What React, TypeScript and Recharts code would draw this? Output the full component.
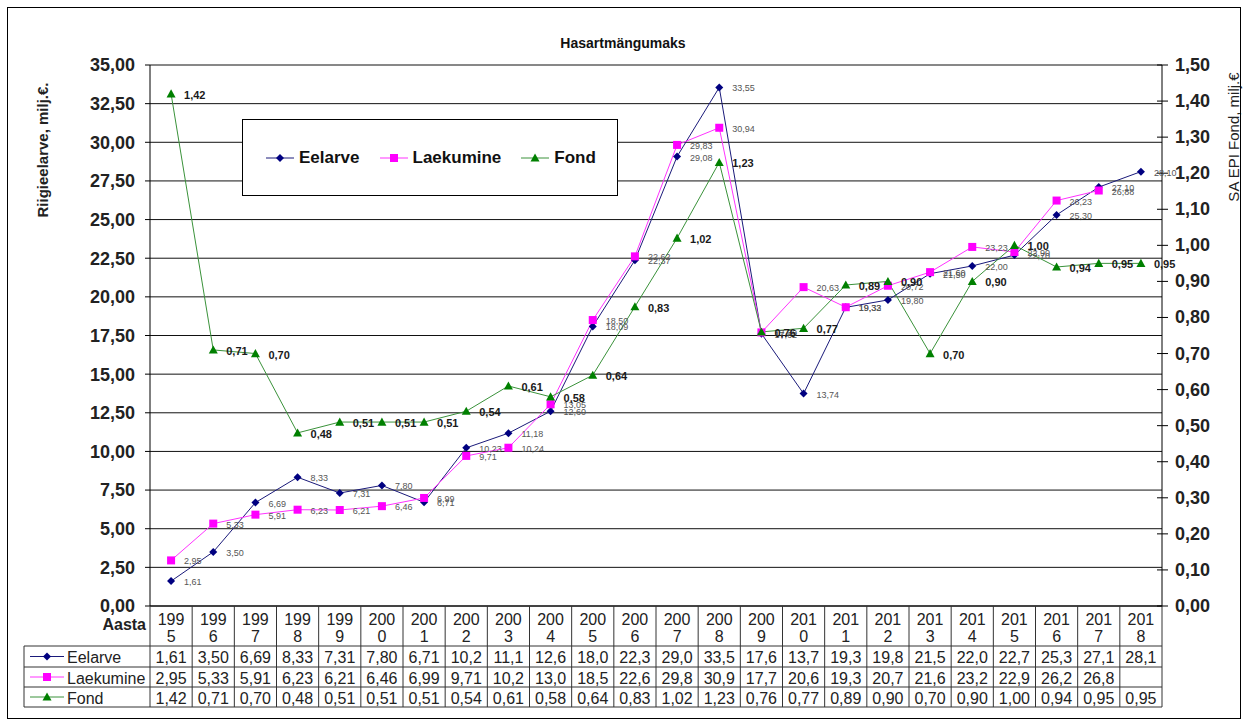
import React from "react";
import {
  LineChart,
  Line,
  XAxis,
  YAxis,
  CartesianGrid,
  LabelList,
  Legend,
} from "recharts";

// Hasartmängumaks: riigieelarve (eelarve / laekumine) ja SA EPI Fond
const years = [
  "1995", "1996", "1997", "1998", "1999", "2000", "2001", "2002",
  "2003", "2004", "2005", "2006", "2007", "2008", "2009", "2010",
  "2011", "2012", "2013", "2014", "2015", "2016", "2017", "2018",
];
const eelarve = [
  1.61, 3.5, 6.69, 8.33, 7.31, 7.8, 6.71, 10.23, 11.18, 12.6, 18.09, 22.37,
  29.08, 33.55, 17.62, 13.74, 19.32, 19.8, 21.5, 22.0, 22.7, 25.3, 27.1, 28.1,
];
const laekumine = [
  2.95, 5.33, 5.91, 6.23, 6.21, 6.46, 6.99, 9.71, 10.24, 13.05, 18.5, 22.62,
  29.83, 30.94, 17.7, 20.63, 19.33, 20.72, 21.6, 23.23, 22.9, 26.23, 26.88, null,
];
const fond = [
  1.42, 0.71, 0.7, 0.48, 0.51, 0.51, 0.51, 0.54, 0.61, 0.58, 0.64, 0.83,
  1.02, 1.23, 0.76, 0.77, 0.89, 0.9, 0.7, 0.9, 1.0, 0.94, 0.95, 0.95,
];
const leftTicks = [0, 2.5, 5, 7.5, 10, 12.5, 15, 17.5, 20, 22.5, 25, 27.5, 30, 32.5, 35];
const rightTicks = [0, 0.1, 0.2, 0.3, 0.4, 0.5, 0.6, 0.7, 0.8, 0.9, 1.0, 1.1, 1.2, 1.3, 1.4, 1.5];

const data = years.map((year, i) => ({
  year,
  eelarve: eelarve[i],
  laekumine: laekumine[i],
  fond: fond[i],
}));

const FONT = "Arial, 'Liberation Sans', sans-serif";
const W = 1246;
const H = 726;
const PLOT_LEFT = 150;
const PLOT_RIGHT = 1162;
const PLOT_TOP = 65;
const PLOT_BOTTOM = 606;
const COL = (PLOT_RIGHT - PLOT_LEFT) / years.length;
const ROWS = [646, 667, 687, 707];
const TABLE_LEFT = 24;

const comma = (v: number, d = 2) => v.toFixed(d).replace(".", ",");
// Excel cuts the long values in the narrow table cells
const cell = (v: number | null) => {
  if (v == null) return "";
  if (v >= 10) return comma(Math.floor(v * 10 + 1e-6) / 10, 1);
  return comma(v);
};

const series = [
  { key: "eelarve", name: "Eelarve", color: "#000080", line: "#1a1a7a", shape: "diamond", values: eelarve },
  { key: "laekumine", name: "Laekumine", color: "#ff00ff", line: "#ff33ff", shape: "square", values: laekumine },
  { key: "fond", name: "Fond", color: "#008000", line: "#3a923a", shape: "triangle", values: fond },
];

const Marker = ({ cx, cy, shape, fill }: any) => {
  if (shape === "diamond") {
    const r = 4;
    return <path d={`M${cx},${cy - r}L${cx + r},${cy}L${cx},${cy + r}L${cx - r},${cy}Z`} fill={fill} />;
  }
  if (shape === "square") {
    const r = 4;
    return <rect x={cx - r} y={cy - r} width={r * 2} height={r * 2} fill={fill} />;
  }
  const r = 4.5;
  return <path d={`M${cx},${cy - r}L${cx + r},${cy + r * 0.8}L${cx - r},${cy + r * 0.8}Z`} fill={fill} />;
};

const makeDot = (shape: string, fill: string) => (p: any) => {
  if (p.cy == null || p.cx == null) return <g key={p.index} />;
  return <Marker key={p.index} cx={p.cx} cy={p.cy} shape={shape} fill={fill} />;
};

const makeLabel = (bold: boolean) => (p: any) => {
  if (p.value == null) return null;
  return (
    <text
      x={p.x + 13}
      y={p.y + 1}
      dominantBaseline="central"
      fontFamily={FONT}
      fontSize={bold ? 11 : 9}
      fontWeight={bold ? "bold" : "normal"}
      fill={bold ? "#1a1a1a" : "#555"}
    >
      {comma(p.value)}
    </text>
  );
};

const TableTick = (props: any) => {
  const { x, payload, index } = props;
  const year = String(payload.value);
  const hw = COL / 2;
  const i = index;
  const mid = (a: number, b: number) => (a + b) / 2;
  return (
    <g fontFamily={FONT}>
      {i === 0 && (
        <g>
          <text x={146} y={630} textAnchor="end" fontSize={16} fontWeight="bold" fill="#222">
            Aasta
          </text>
          <line x1={TABLE_LEFT} x2={TABLE_LEFT} y1={ROWS[0]} y2={ROWS[3]} stroke="#333" />
          <line x1={x - hw} x2={x - hw} y1={PLOT_BOTTOM} y2={ROWS[3]} stroke="#333" />
          {ROWS.map((ry) => (
            <line key={ry} x1={TABLE_LEFT} x2={PLOT_RIGHT} y1={ry} y2={ry} stroke="#333" />
          ))}
          {series.map((s, k) => {
            const cy = mid(ROWS[k], ROWS[k + 1]);
            return (
              <g key={s.key}>
                <line x1={30} x2={64} y1={cy} y2={cy} stroke={s.line} />
                <Marker cx={47} cy={cy} shape={s.shape} fill={s.color} />
                <text x={67} y={cy + 1} dominantBaseline="central" fontSize={16} fill="#222">
                  {s.name}
                </text>
              </g>
            );
          })}
        </g>
      )}
      <line x1={x + hw} x2={x + hw} y1={PLOT_BOTTOM} y2={ROWS[3]} stroke="#333" />
      <text x={x} y={625} textAnchor="middle" fontSize={16} fill="#222">
        {year.slice(0, 3)}
      </text>
      <text x={x} y={642} textAnchor="middle" fontSize={16} fill="#222">
        {year.slice(3)}
      </text>
      {series.map((s, k) => (
        <text
          key={s.key}
          x={x}
          y={mid(ROWS[k], ROWS[k + 1]) + 1}
          textAnchor="middle"
          dominantBaseline="central"
          fontSize={16}
          fill="#222"
        >
          {cell(s.values[i])}
        </text>
      ))}
    </g>
  );
};

const RightTick = (props: any) => {
  const { x, y, payload } = props;
  return (
    <g>
      <line x1={PLOT_RIGHT - 5} x2={PLOT_RIGHT + 6} y1={y} y2={y} stroke="#000" />
      <text x={x} y={y} dominantBaseline="central" fontFamily={FONT} fontSize={18} fontWeight="bold" fill="#222">
        {comma(payload.value)}
      </text>
    </g>
  );
};

const LegendBox = () => (
  <div
    style={{
      boxSizing: "border-box",
      width: "100%",
      height: "100%",
      border: "1px solid #000",
      background: "#fff",
      display: "flex",
      alignItems: "center",
      paddingLeft: 23,
      fontFamily: FONT,
      fontSize: 17,
      fontWeight: "bold",
      color: "#111",
    }}
  >
    {series.map((s) => (
      <div key={s.key} style={{ display: "flex", alignItems: "center", marginRight: 20 }}>
        <svg width={29} height={14} style={{ marginRight: 4 }}>
          <line x1={0} x2={28} y1={7} y2={7} stroke={s.line} />
          <Marker cx={14} cy={7} shape={s.shape} fill={s.color} />
        </svg>
        <span>{s.name}</span>
      </div>
    ))}
  </div>
);

export default function App() {
  return (
    <div style={{ position: "absolute", left: 0, top: 0, width: W, height: H, background: "#fff" }}>
      <div
        style={{
          position: "absolute",
          left: 0,
          top: 35,
          width: W,
          textAlign: "center",
          fontFamily: FONT,
          fontSize: 14,
          fontWeight: "bold",
          color: "#111",
        }}
      >
        Hasartmängumaks
      </div>
      <LineChart
        width={W}
        height={H}
        data={data}
        margin={{ top: PLOT_TOP, right: 0, bottom: 0, left: 0 }}
      >
        <CartesianGrid yAxisId="left" vertical={false} stroke="#111" />
        <XAxis
          dataKey="year"
          height={H - PLOT_BOTTOM}
          interval={0}
          padding={{ left: COL / 2, right: COL / 2 }}
          axisLine={{ stroke: "#000" }}
          tickLine={false}
          tick={<TableTick />}
        />
        <YAxis
          yAxisId="left"
          width={PLOT_LEFT}
          domain={[0, 35]}
          ticks={leftTicks}
          interval={0}
          tickFormatter={(v) => comma(v)}
          tick={{ fontFamily: FONT, fontSize: 18, fontWeight: "bold", fill: "#222" }}
          axisLine={{ stroke: "#000" }}
          tickLine={{ stroke: "#000" }}
          tickSize={5}
          tickMargin={10}
          label={() => (
            <text
              x={42}
              y={150}
              transform="rotate(-90 42 150)"
              textAnchor="middle"
              dominantBaseline="central"
              fontFamily={FONT}
              fontSize={15}
              fontWeight="bold"
              fill="#222"
            >
              Riigieelarve, milj.€.
            </text>
          )}
        />
        <YAxis
          yAxisId="right"
          orientation="right"
          width={W - PLOT_RIGHT}
          domain={[0, 1.5]}
          ticks={rightTicks}
          interval={0}
          axisLine={{ stroke: "#000" }}
          tickLine={false}
          tickSize={0}
          tickMargin={13}
          tick={<RightTick />}
          label={() => (
            <text
              x={1233}
              y={137}
              transform="rotate(-90 1233 137)"
              textAnchor="middle"
              dominantBaseline="central"
              fontFamily={FONT}
              fontSize={15}
              fill="#222"
            >
              SA EPI Fond, milj.€
            </text>
          )}
        />
        <Legend
          layout="horizontal"
          verticalAlign="middle"
          align="center"
          content={() => <LegendBox />}
          wrapperStyle={{ left: 242, top: 119, width: 376, height: 77 }}
        />
        <Line
          yAxisId="left"
          dataKey="eelarve"
          name="Eelarve"
          stroke="#1a1a7a"
          strokeWidth={1}
          dot={makeDot("diamond", "#000080")}
          isAnimationActive={false}
        >
          <LabelList dataKey="eelarve" content={makeLabel(false)} />
        </Line>
        <Line
          yAxisId="left"
          dataKey="laekumine"
          name="Laekumine"
          stroke="#ff33ff"
          strokeWidth={1}
          dot={makeDot("square", "#ff00ff")}
          isAnimationActive={false}
        >
          <LabelList dataKey="laekumine" content={makeLabel(false)} />
        </Line>
        <Line
          yAxisId="right"
          dataKey="fond"
          name="Fond"
          stroke="#3a923a"
          strokeWidth={1}
          dot={makeDot("triangle", "#008000")}
          isAnimationActive={false}
        >
          <LabelList dataKey="fond" content={makeLabel(true)} />
        </Line>
      </LineChart>
      <div
        style={{
          position: "absolute",
          left: 7,
          top: 7,
          width: 1232,
          height: 710,
          border: "1px solid #000",
          pointerEvents: "none",
        }}
      />
    </div>
  );
}
